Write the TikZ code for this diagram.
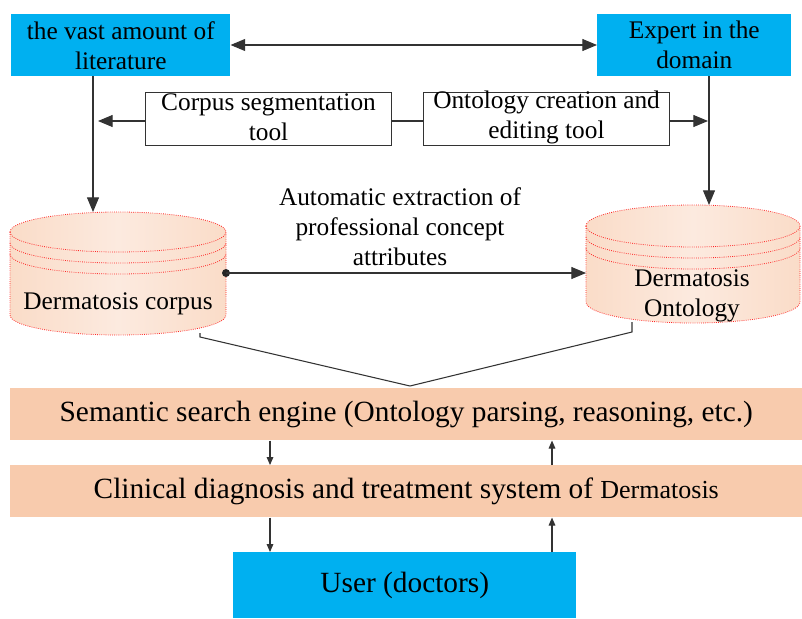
\documentclass[tikz,border=0pt]{standalone}
\usepackage{fontspec}
\setmainfont{Liberation Serif}
\usetikzlibrary{arrows.meta}
\definecolor{bluebox}{HTML}{00B0F0}
\definecolor{peach}{HTML}{F8CBAD}
\definecolor{cylA}{HTML}{FADCC8}
\definecolor{cylB}{HTML}{FCEADF}
\tikzset{
  txt/.style={font=\fontsize{19}{22.5}\selectfont, align=center, inner sep=0pt},
  bigtxt/.style={font=\fontsize{22}{26}\selectfont, align=center, inner sep=0pt},
  bluebox/.style={txt, fill=bluebox, draw=none, anchor=north west},
  toolbox/.style={txt, draw=black!80, line width=0.8pt, anchor=north west},
  bar/.style={txt, fill=peach, draw=none, anchor=north west},
  conn/.style={draw=black!80, line width=0.8pt},
  bigarrow/.style={conn, -{Triangle[length=11pt,width=9pt]}},
  smallarrow/.style={conn, -{Triangle[length=6pt,width=5pt]}},
  cylline/.style={draw=red!85, line width=0.6pt, densely dotted},
}
\begin{document}
\begin{tikzpicture}[x=0.75pt,y=-0.75pt]
\useasboundingbox (0,0) rectangle (802,618);

% top blue boxes
\node[bluebox, minimum width=219*0.75pt, minimum height=62*0.75pt] (lit) at (11,14) {};
\node[txt] at (lit.center) {the vast amount of\\literature};
\node[bluebox, minimum width=194*0.75pt, minimum height=62*0.75pt] (exp) at (597,14) {};
\node[txt] at (exp.center) {Expert in the\\domain};

% tool boxes
\node[toolbox, minimum width=246*0.75pt, minimum height=53*0.75pt] (seg) at (145,92) {};
\node[txt] at ([yshift=1pt]seg.center) {Corpus segmentation\\tool};
\node[toolbox, minimum width=246*0.75pt, minimum height=53*0.75pt] (ont) at (423,92) {};
\node[txt] at ([yshift=1pt]ont.center) {Ontology creation and\\editing tool};

% cylinders
\shade[left color=cylA, right color=cylA, middle color=cylB]
  (10,232) arc[start angle=180,end angle=360,x radius=108,y radius=20]
  -- (226,315) arc[start angle=0,end angle=180,x radius=108,y radius=20] -- cycle;
\draw[cylline] (10,232) arc[start angle=180,end angle=540,x radius=108,y radius=20];
\draw[cylline] (10,243) arc[start angle=180,end angle=0,x radius=108,y radius=20];
\draw[cylline] (10,254) arc[start angle=180,end angle=0,x radius=108,y radius=20];
\draw[cylline] (10,232) -- (10,315) arc[start angle=180,end angle=0,x radius=108,y radius=20] -- (226,232);
\coordinate (corTop) at (93,212);
\coordinate (corDot) at (226,273);
\coordinate (corBot) at (200,333);
\node[txt] (corpus) at (118,304) {Dermatosis corpus};

\shade[left color=cylA, right color=cylA, middle color=cylB]
  (586,226) arc[start angle=180,end angle=360,x radius=107,y radius=21]
  -- (800,302) arc[start angle=0,end angle=180,x radius=107,y radius=21] -- cycle;
\draw[cylline] (586,226) arc[start angle=180,end angle=540,x radius=107,y radius=21];
\draw[cylline] (586,237) arc[start angle=180,end angle=0,x radius=107,y radius=21];
\draw[cylline] (586,248) arc[start angle=180,end angle=0,x radius=107,y radius=21];
\draw[cylline] (586,226) -- (586,302) arc[start angle=180,end angle=0,x radius=107,y radius=21] -- (800,226);
\coordinate (ontTop) at (709,205);
\coordinate (ontLeft) at (586,273);
\coordinate (ontBot) at (632,322);
\node[txt] (ontology) at (692,296) {Dermatosis\\Ontology};

% label
\node[txt] (auto) at (400,227) {Automatic extraction of\\professional concept\\attributes};

% bars
\node[bar, minimum width=792*0.75pt, minimum height=52*0.75pt] (sem) at (10,388) {};
\node[bigtxt] at (sem.center) {Semantic search engine (Ontology parsing, reasoning, etc.)};
\node[bar, minimum width=792*0.75pt, minimum height=52*0.75pt] (cli) at (10,465) {};
\node[bigtxt] at (cli.center) {Clinical diagnosis and treatment system of {\fontsize{19.5}{22}\selectfont Dermatosis}};
\node[bluebox, minimum width=343*0.75pt, minimum height=66*0.75pt] (user) at (233,552) {};
\node[bigtxt] at (user.center) {User (doctors)};

% connectors
\draw[conn, {Triangle[length=11pt,width=9pt]}-{Triangle[length=11pt,width=9pt]}] (lit.east |- 0,45) -- (exp.west |- 0,45);
\coordinate (litBot) at (93,76);
\coordinate (expBot) at (709,76);
\draw[bigarrow] (litBot) -- (corTop);
\draw[bigarrow] (expBot) -- (ontTop);
\draw[conn] (seg.east |- 0,121) -- (ont.west |- 0,121);
\coordinate (segTip) at (98,121);
\coordinate (ontTip) at (708,121);
\draw[bigarrow] (seg.west |- 0,121) -- (segTip);
\draw[bigarrow] (ont.east |- 0,121) -- (ontTip);
\fill[black!85] (corDot) circle[radius=4];
\draw[bigarrow] (corDot) -- (ontLeft);
\coordinate (meet) at (410,386);
\draw[conn] (corBot) -- (200,337) -- (meet) -- (632,332) -- (ontBot);

\draw[smallarrow] (sem.south -| 270,0) -- (cli.north -| 270,0);
\draw[smallarrow] (cli.north -| 552,0) -- (sem.south -| 552,0);
\draw[smallarrow] (cli.south -| 270,0) -- (user.north -| 270,0);
\draw[smallarrow] (user.north -| 552,0) -- (cli.south -| 552,0);
\end{tikzpicture}
\end{document}
